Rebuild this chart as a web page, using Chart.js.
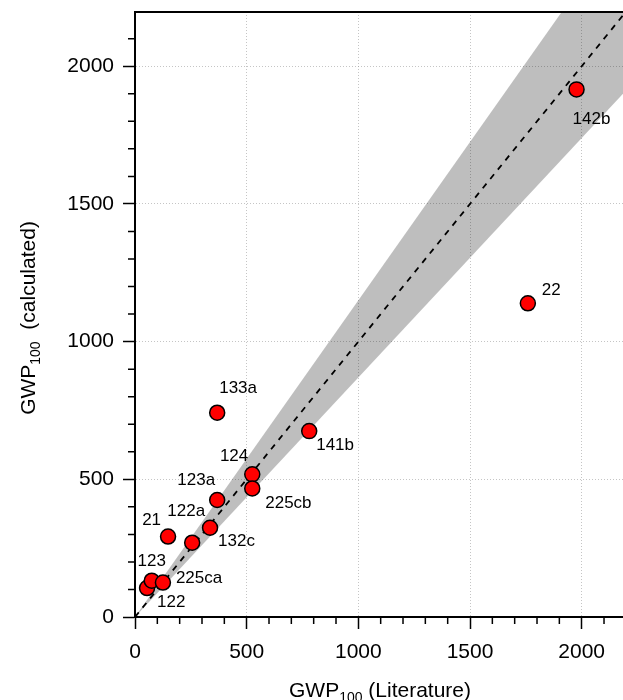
<!DOCTYPE html>
<html>
<head>
<meta charset="utf-8">
<script src="https://cdn.jsdelivr.net/npm/chart.js@4.4.0/dist/chart.umd.min.js"></script>
<style>
  html, body { margin: 0; padding: 0; background: #fff; }
  #wrap { position: relative; width: 623px; height: 700px; }
</style>
</head>
<body>
<div id="wrap"><canvas id="gwpChart"></canvas></div>
<script>
// GWP100 values: literature vs calculated
const compounds = ['122', '123', '225ca', '21', '122a', '132c', '123a', '124', '225cb', '133a', '141b', '22', '142b'];
const gwpLiterature = [54, 75, 125, 148, 256, 336, 368, 525, 525, 368, 780, 1759, 1977];
const gwpCalculated = [105, 132, 125, 292, 270, 324, 425, 518, 467, 742, 675, 1139, 1916];

// shaded band and 1:1 line
const bandX = [0, 2200];
const bandUpper = [0, 2530];
const bandLower = [0, 1913];
const diagonal = [0, 2200];

const majorTicks = [0, 500, 1000, 1500, 2000];
const FONT = "'Liberation Sans', Arial, sans-serif";

// where each label sits relative to its point
const labelPos = {
  '122':   { dx: 10, dy: 14, align: 'left' },
  '123':   { dx: 0, dy: -19, align: 'center' },
  '225ca': { dx: 13, dy: -4, align: 'left' },
  '21':    { dx: -7, dy: -16, align: 'right' },
  '122a':  { dx: -6, dy: -31, align: 'center' },
  '132c':  { dx: 8, dy: 14, align: 'left' },
  '123a':  { dx: -2, dy: -20, align: 'right' },
  '124':   { dx: -4, dy: -18, align: 'right' },
  '225cb': { dx: 13, dy: 15, align: 'left' },
  '133a':  { dx: 2, dy: -24, align: 'left' },
  '141b':  { dx: 7, dy: 14, align: 'left' },
  '22':    { dx: 14, dy: -13, align: 'left' },
  '142b':  { dx: -4, dy: 30, align: 'left' }
};

const toXY = (xs, ys) => xs.map((x, i) => ({ x: x, y: ys[i] }));

const pointLabels = {
  id: 'pointLabels',
  afterDatasetsDraw(chart) {
    const ctx = chart.ctx;
    const meta = chart.getDatasetMeta(3);
    ctx.save();
    ctx.font = '17px ' + FONT;
    ctx.fillStyle = '#000';
    ctx.textBaseline = 'middle';
    meta.data.forEach((pt, i) => {
      const p = labelPos[compounds[i]];
      ctx.textAlign = p.align;
      ctx.fillText(compounds[i], pt.x + p.dx, pt.y + p.dy);
    });
    ctx.restore();
  }
};

// minor ticks, top frame line and axis titles with subscripts
const frameAndTitles = {
  id: 'frameAndTitles',
  afterDraw(chart) {
    const ctx = chart.ctx;
    const area = chart.chartArea;
    const xs = chart.scales.x, ys = chart.scales.y;
    ctx.save();
    ctx.strokeStyle = '#000';
    ctx.lineWidth = 1.5;
    ctx.beginPath();
    for (let v = 100; v <= 2200; v += 100) {
      if (v % 500 === 0) continue;
      const px = xs.getPixelForValue(v);
      if (px <= area.right) { ctx.moveTo(px, area.bottom); ctx.lineTo(px, area.bottom + 7); }
      const py = ys.getPixelForValue(v);
      if (py >= area.top) { ctx.moveTo(area.left, py); ctx.lineTo(area.left - 7, py); }
    }
    ctx.stroke();
    ctx.lineWidth = 2;
    ctx.beginPath();
    ctx.moveTo(area.left - 1, area.top);
    ctx.lineTo(area.right, area.top);
    ctx.stroke();

    const drawTitle = (x, y, pre, sub, post) => {
      ctx.font = '21px ' + FONT;
      const w1 = ctx.measureText(pre).width;
      const w3 = ctx.measureText(post).width;
      ctx.font = '14px ' + FONT;
      const w2 = ctx.measureText(sub).width;
      let cx = x - (w1 + w2 + w3) / 2;
      ctx.textAlign = 'left';
      ctx.textBaseline = 'alphabetic';
      ctx.font = '21px ' + FONT;
      ctx.fillText(pre, cx, y);
      cx += w1;
      ctx.font = '14px ' + FONT;
      ctx.fillText(sub, cx, y + 5);
      cx += w2;
      ctx.font = '21px ' + FONT;
      ctx.fillText(post, cx, y);
    };
    ctx.fillStyle = '#000';
    drawTitle(380, 697, 'GWP', '100', ' (Literature)');
    ctx.translate(35, 318);
    ctx.rotate(-Math.PI / 2);
    drawTitle(0, 0, 'GWP', '100', '  (calculated)');
    ctx.restore();
  }
};

const axisCommon = {
  type: 'linear',
  min: 0,
  afterBuildTicks: (scale) => { scale.ticks = majorTicks.map(v => ({ value: v })); },
  grid: {
    color: (c) => (c.tick && c.tick.value === 0) ? 'rgba(0,0,0,0)' : 'rgba(150,150,150,0.55)',
    lineWidth: 1,
    tickColor: '#000',
    tickLength: 12,
    tickWidth: 1.5
  },
  border: { display: true, color: '#000', width: 2, dash: [1, 2] }
};

const tickFont = { family: FONT, size: 21 };

const ctx = document.getElementById('gwpChart').getContext('2d');
const gwpChart = new Chart(ctx, {
  type: 'scatter',
  data: {
    datasets: [
      {
        data: toXY(bandX, bandUpper),
        showLine: true,
        borderWidth: 0,
        pointRadius: 0,
        fill: false,
        order: 3
      },
      {
        data: toXY(bandX, bandLower),
        showLine: true,
        borderWidth: 0,
        pointRadius: 0,
        backgroundColor: 'rgba(0,0,0,0.255)',
        fill: '-1',
        order: 3
      },
      {
        data: toXY(diagonal, diagonal),
        showLine: true,
        borderColor: '#000',
        borderWidth: 1.8,
        borderDash: [6, 6],
        pointRadius: 0,
        fill: false,
        order: 2
      },
      {
        data: toXY(gwpLiterature, gwpCalculated),
        backgroundColor: '#ff0000',
        borderColor: '#000',
        borderWidth: 1.5,
        pointRadius: 7.5,
        order: 1
      }
    ]
  },
  options: {
    responsive: true,
    maintainAspectRatio: false,
    animation: false,
    events: [],
    layout: { autoPadding: false, padding: { top: 12, right: 0, left: 0, bottom: 0 } },
    plugins: {
      legend: { display: false },
      tooltip: { enabled: false }
    },
    scales: {
      x: Object.assign({}, axisCommon, {
        max: 2185,
        ticks: { color: '#000', font: tickFont, padding: 11, maxRotation: 0, callback: (v) => String(v) },
        afterFit: (s) => { s.height = 83; s.paddingLeft = 0; s.paddingRight = 0; }
      }),
      y: Object.assign({}, axisCommon, {
        max: 2197,
        ticks: { color: '#000', font: tickFont, padding: 9, callback: (v) => String(v) },
        afterFit: (s) => { s.width = 135; s.paddingTop = 0; s.paddingBottom = 0; }
      })
    }
  },
  plugins: [pointLabels, frameAndTitles]
});
</script>
</body>
</html>
